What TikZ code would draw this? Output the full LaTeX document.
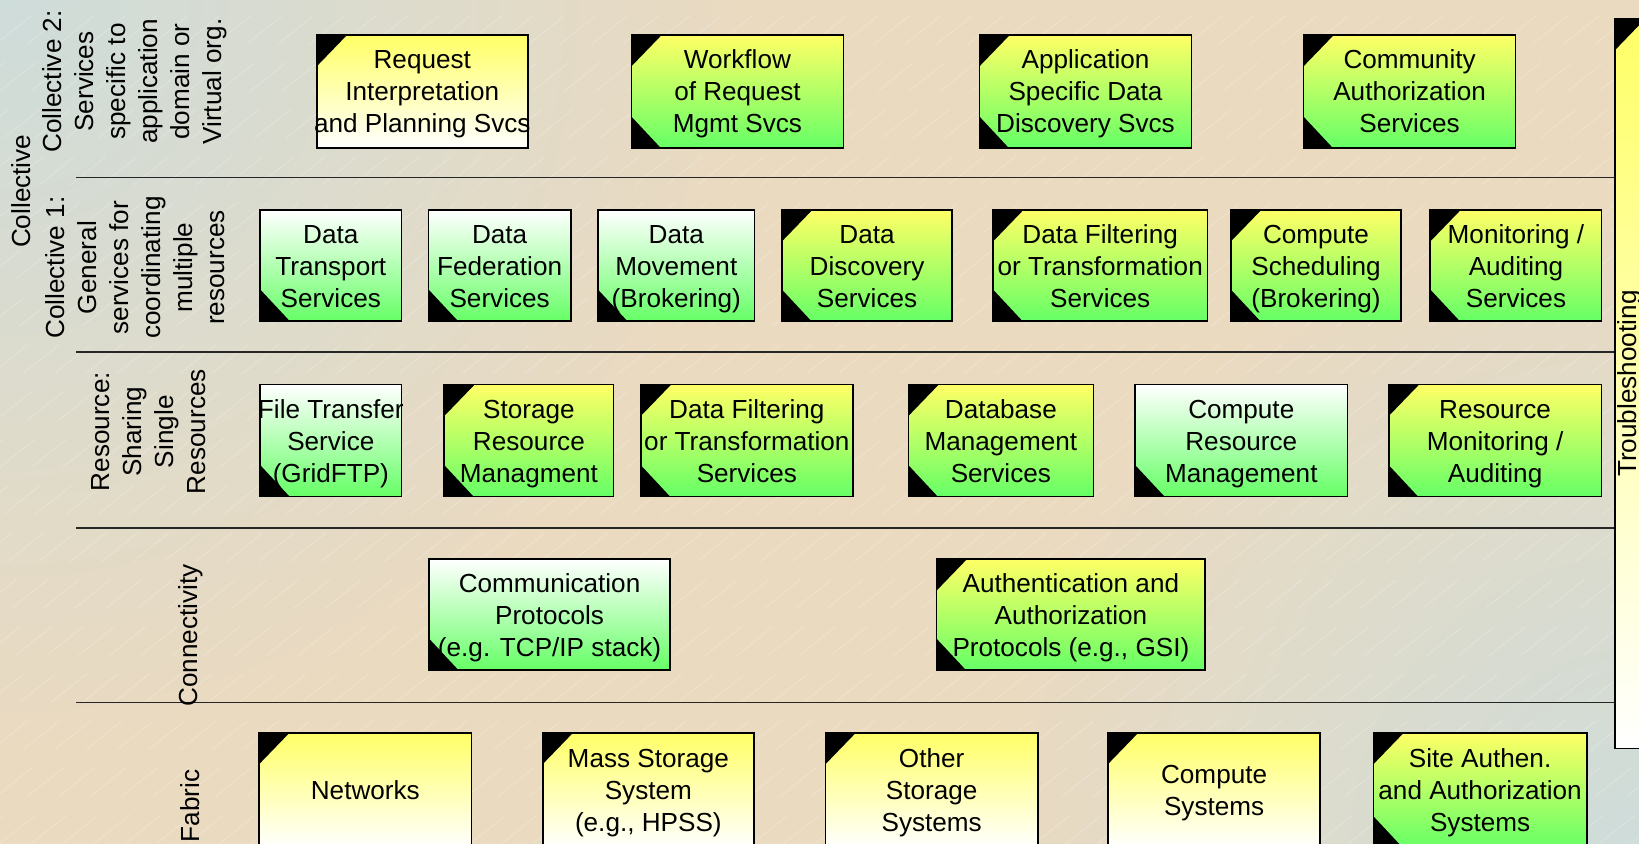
\documentclass[tikz,border=0pt]{standalone}
\usepackage{fontspec}
\setmainfont{Liberation Sans}

\definecolor{boxyellow}{RGB}{255,255,102}
\definecolor{boxgreen}{RGB}{102,255,102}
\definecolor{bgtan}{RGB}{234,218,192}
\definecolor{bgcorner}{RGB}{206,220,218}

\newcommand\boxfont{\fontsize{12.5}{15.3}\selectfont}
\newcommand\wideline[1]{\makebox[0pt]{#1}}
\newcommand\svclines[1]{\begin{tabular}{@{}c@{}}\rule{0pt}{13.7pt}#1\end{tabular}}

\tikzset{
  svc/.style={draw=black, line width=.75pt, inner sep=0pt, font=\boxfont},
  cutTL/.style={path picture={\fill (path picture bounding box.north west) -- ++(14.5pt,0pt) -- ++(-14.5pt,-15pt) -- cycle;}},
  cutBL/.style={path picture={\fill (path picture bounding box.south west) -- ++(14pt,0pt) -- ++(-14pt,15pt) -- cycle;}},
  cutBoth/.style={path picture={\fill (path picture bounding box.north west) -- ++(14.5pt,0pt) -- ++(-14.5pt,-15pt) -- cycle;
      \fill (path picture bounding box.south west) -- ++(14pt,0pt) -- ++(-14pt,15pt) -- cycle;}},
  yw/.style={svc, top color=boxyellow, bottom color=white, cutTL},
  wg/.style={svc, top color=white, bottom color=boxgreen, cutBL},
  yg/.style={svc, top color=boxyellow, bottom color=boxgreen, cutBoth},
  tsbar/.style={draw=black, line width=.75pt, inner sep=0pt, top color=boxyellow, bottom color=white,
      minimum width=35pt, minimum height=349pt, cutTL},
  layer/.style={rotate=90, align=center, font=\boxfont},
  sepline/.style={line width=.75pt, black!85},
  bgline/.style={white, opacity=.3, line width=.3pt, dash pattern=on 22pt off 14pt},
}

\begin{document}
\begin{tikzpicture}[x=0.5pt,y=-0.5pt]
\useasboundingbox (0,0) rectangle (1568,807);
\clip (0,0) rectangle (1568,807);
%% background
\fill[bgtan] (0,0) rectangle (1568,807);
\shade[inner color=bgcorner, outer color=bgtan] (0,0) circle (720);
\shade[inner color=bgcorner, outer color=bgtan] (1568,807) circle (620);
\foreach \k in {-1020,-990,...,1560}
  \draw[bgline] (\k,807) -- ++(1020,-816);
%% troubleshooting bar
\node[tsbar] (tsbar) at (1580,367) {};
\node[layer] (tstext) at (1559,367) {Troubleshooting};
%% layer separators
\coordinate (sep1) at (73,170);
\coordinate (sep2) at (73,337);
\coordinate (sep3) at (73,505);
\coordinate (sep4) at (73,672);
\foreach \s in {sep1,sep2,sep3,sep4}
  \draw[sepline] (\s) -- (\s -| tsbar.west);
%% layer names
\node[layer] (coll) at (20,183) {Collective};
\node[layer] (coll2) at (129,78) {Collective 2:\\Services\\specific to\\application\\domain or\\Virtual org.};
\node[layer] (coll1) at (129,256) {Collective 1:\\General\\services for\\coordinating\\multiple\\resources};
\node[layer] (resource) at (142.5,413) {Resource:\\Sharing\\Single\\Resources};
\node[layer] (connect) at (182,608) {Connectivity};
\node[layer] (fabric) at (182,771) {Fabric};
%% Layer: Collective 2
\node[yw, minimum width=101pt, minimum height=54pt] (req) at (404,87.5) {\svclines{Request\\Interpretation\\\wideline{and Planning Svcs}}};
\node[yg, minimum width=101.5pt, minimum height=54pt] (wflow) at (705.5,87.5) {\svclines{Workflow\\of Request\\Mgmt Svcs}};
\node[yg, minimum width=101.5pt, minimum height=54pt] (appdisc) at (1038.5,87.5) {\svclines{Application\\Specific Data\\Discovery Svcs}};
\node[yg, minimum width=101.5pt, minimum height=54pt] (cas) at (1348.5,87.5) {\svclines{Community\\Authorization\\Services}};
%% Layer: Collective 1
\node[wg, minimum width=67.5pt, minimum height=53pt] (transport) at (316.5,254) {\svclines{Data\\Transport\\Services}};
\node[wg, minimum width=68pt, minimum height=53pt] (federation) at (478,254) {\svclines{Data\\Federation\\Services}};
\node[wg, minimum width=75pt, minimum height=53pt] (movement) at (647,254) {\svclines{Data\\Movement\\(Brokering)}};
\node[yg, minimum width=81.5pt, minimum height=53pt] (discovery) at (829.5,254) {\svclines{Data\\Discovery\\Services}};
\node[yg, minimum width=102.5pt, minimum height=53pt] (filter) at (1052.5,254) {\svclines{Data Filtering\\or Transformation\\Services}};
\node[yg, minimum width=81.5pt, minimum height=53pt] (sched) at (1259,254) {\svclines{Compute\\Scheduling\\(Brokering)}};
\node[yg, minimum width=82pt, minimum height=53pt] (monitor) at (1450.3,254) {\svclines{Monitoring /\\Auditing\\Services}};
%% Layer: Resource
\node[wg, minimum width=67.5pt, minimum height=53.5pt] (gridftp) at (316.5,421.5) {\svclines{\wideline{File Transfer}\\Service\\(GridFTP)}};
\node[yg, minimum width=81pt, minimum height=53.5pt] (srm) at (506,421.5) {\svclines{Storage\\Resource\\Managment}};
\node[yg, minimum width=101.5pt, minimum height=53.5pt] (filterres) at (714.5,421.5) {\svclines{Data Filtering\\or Transformation\\Services}};
\node[yg, minimum width=88.5pt, minimum height=53.5pt] (dbms) at (957.5,421.5) {\svclines{Database\\Management\\Services}};
\node[wg, minimum width=101.5pt, minimum height=53.5pt] (compres) at (1187.5,421.5) {\svclines{Compute\\Resource\\Management}};
\node[yg, minimum width=101.75pt, minimum height=53.5pt] (resmon) at (1430.3,421.5) {\svclines{Resource\\Monitoring /\\Auditing}};
%% Layer: Connectivity
\node[wg, minimum width=115.25pt, minimum height=53pt] (comm) at (525.75,588) {\svclines{Communication\\Protocols\\(e.g. TCP/IP stack)}};
\node[yg, minimum width=128.5pt, minimum height=53pt] (authn) at (1024.5,588) {\svclines{Authentication and\\Authorization\\Protocols (e.g., GSI)}};
%% Layer: Fabric
\node[yw, minimum width=101.5pt, minimum height=55pt] (networks) at (349.5,756) {\svclines{Networks}};
\node[yw, minimum width=101pt, minimum height=55pt] (mss) at (620.25,756) {\svclines{Mass Storage\\System\\(e.g., HPSS)}};
\node[yw, minimum width=101.5pt, minimum height=55pt] (otherstor) at (891.3,756) {\svclines{Other\\Storage\\Systems}};
\node[yw, minimum width=101.5pt, minimum height=55pt] (compsys) at (1161.5,756) {\svclines{Compute\\Systems}};
\node[yg, minimum width=102pt, minimum height=55pt] (siteauth) at (1416,756) {\svclines{Site Authen.\\and Authorization\\Systems}};
%
\end{tikzpicture}
\end{document}
